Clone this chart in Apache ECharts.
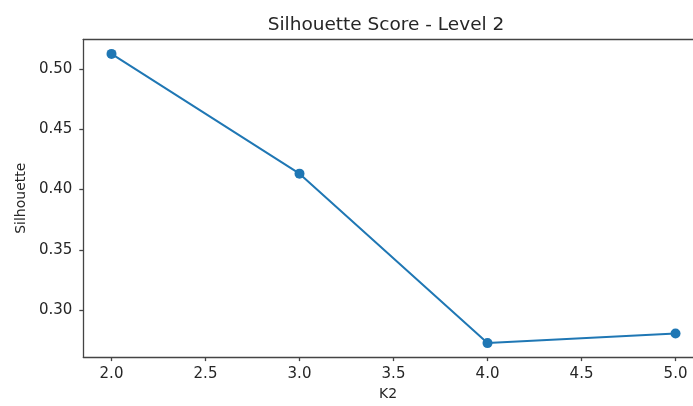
<!DOCTYPE html>
<html>
<head>
<meta charset="utf-8">
<script src="https://cdn.jsdelivr.net/npm/echarts@6/dist/echarts.min.js"></script>
<style>html,body{margin:0;padding:0;background:#fff}#c{width:693px;height:406px}</style>
</head>
<body>
<div id="c"></div>
<script>
const kValues = [2, 3, 4, 5];
const silhouette = [0.5125, 0.4132, 0.2727, 0.2806];
const xTicks = [2.0, 2.5, 3.0, 3.5, 4.0, 4.5, 5.0];
const yTicks = [0.30, 0.35, 0.40, 0.45, 0.50];

const FONT = 'DejaVu Sans';
const INK = '#262626';
const SPINE = '#444';
const chart = echarts.init(document.getElementById('c'), null, {renderer: 'canvas'});
chart.setOption({
  animation: false,
  backgroundColor: '#fff',
  title: {
    text: 'Silhouette Score - Level 2',
    left: 381, top: 11, textAlign: 'center',
    textStyle: {fontFamily: FONT, fontSize: 18.5, fontWeight: 'normal', color: INK}
  },
  grid: {left: 83.3, top: 39.3, right: 0, bottom: 45.3, show: false},
  xAxis: [{
    type: 'value', min: 1.85, max: 5.093, position: 'bottom',
    name: 'K2', nameLocation: 'middle', nameGap: 29,
    nameTextStyle: {fontFamily: FONT, fontSize: 14, color: INK},
    axisLine: {show: true, lineStyle: {color: SPINE, width: 1.3}},
    axisTick: {show: true, length: 4, lineStyle: {color: SPINE, width: 1.3}, customValues: xTicks},
    axisLabel: {fontFamily: FONT, fontSize: 15, color: INK, margin: 10, customValues: xTicks,
      formatter: v => Number(v).toFixed(1)},
    splitLine: {show: false}
  }, {
    type: 'value', min: 1.85, max: 5.093, position: 'top',
    axisLine: {show: true, lineStyle: {color: SPINE, width: 1.3}},
    axisTick: {show: false}, axisLabel: {show: false}, splitLine: {show: false}
  }],
  yAxis: {
    type: 'value', min: 0.2611, max: 0.5246,
    name: 'Silhouette', nameLocation: 'middle', nameGap: 54, nameRotate: 90,
    nameTextStyle: {fontFamily: FONT, fontSize: 14, color: INK},
    axisLine: {show: true, lineStyle: {color: SPINE, width: 1.3}},
    axisTick: {show: true, length: 4, lineStyle: {color: SPINE, width: 1.3}, customValues: yTicks},
    axisLabel: {fontFamily: FONT, fontSize: 15, color: INK, margin: 11, customValues: yTicks,
      formatter: v => Number(v).toFixed(2)},
    splitLine: {show: false}
  },
  series: [{
    type: 'line',
    data: kValues.map((k, i) => [k, silhouette[i]]),
    symbol: 'circle', symbolSize: 10,
    lineStyle: {color: '#1f77b4', width: 2},
    itemStyle: {color: '#1f77b4'},
    clip: false
  }]
});
</script>
</body>
</html>
